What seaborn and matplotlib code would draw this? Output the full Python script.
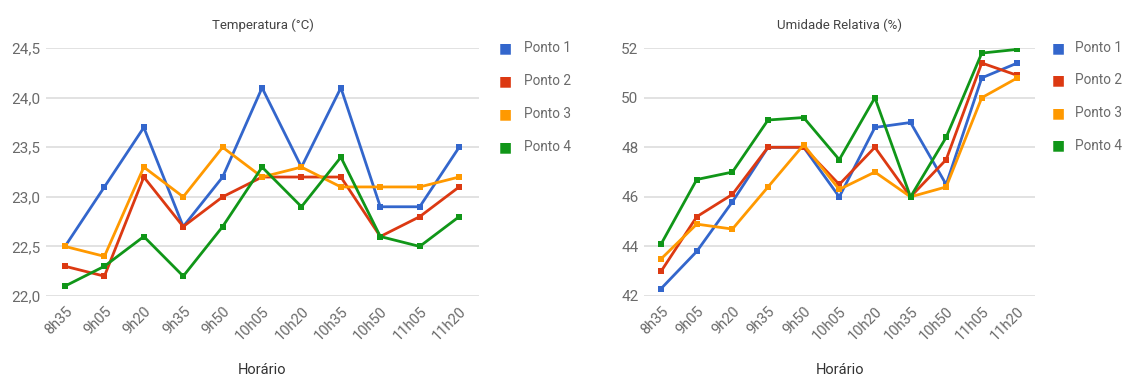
import matplotlib
matplotlib.use("Agg")
import matplotlib.pyplot as plt
import seaborn as sns
import pandas as pd

horarios = ["8h35", "9h05", "9h20", "9h35", "9h50", "10h05", "10h20", "10h35", "10h50", "11h05", "11h20"]
pontos = ["Ponto 1", "Ponto 2", "Ponto 3", "Ponto 4"]

temp_p1 = [22.5, 23.1, 23.7, 22.7, 23.2, 24.1, 23.3, 24.1, 22.9, 22.9, 23.5]
temp_p2 = [22.3, 22.2, 23.2, 22.7, 23.0, 23.2, 23.2, 23.2, 22.6, 22.8, 23.1]
temp_p3 = [22.5, 22.4, 23.3, 23.0, 23.5, 23.2, 23.3, 23.1, 23.1, 23.1, 23.2]
temp_p4 = [22.1, 22.3, 22.6, 22.2, 22.7, 23.3, 22.9, 23.4, 22.6, 22.5, 22.8]

umid_p1 = [42.3, 43.8, 45.8, 48.0, 48.0, 46.0, 48.8, 49.0, 46.5, 50.8, 51.4]
umid_p2 = [43.0, 45.2, 46.1, 48.0, 48.0, 46.5, 48.0, 46.0, 47.5, 51.4, 50.9]
umid_p3 = [43.5, 44.9, 44.7, 46.4, 48.1, 46.3, 47.0, 46.0, 46.4, 50.0, 50.8]
umid_p4 = [44.1, 46.7, 47.0, 49.1, 49.2, 47.5, 50.0, 46.0, 48.4, 51.8, 51.95]

temp_ticks = [22.0, 22.5, 23.0, 23.5, 24.0, 24.5]
umid_ticks = [42, 44, 46, 48, 50, 52]

cores = ["#3366CC", "#DC3912", "#FF9900", "#109618"]


def long_form(series):
    rows = []
    for nome, vals in zip(pontos, series):
        for i, v in enumerate(vals):
            rows.append({"pos": i, "valor": v, "Ponto": nome})
    return pd.DataFrame(rows)


df_temp = long_form([temp_p1, temp_p2, temp_p3, temp_p4])
df_umid = long_form([umid_p1, umid_p2, umid_p3, umid_p4])

sns.set_theme(style="white")
plt.rcParams["font.family"] = ["Roboto", "DejaVu Sans"]

fig = plt.figure(figsize=(11.24, 3.79), dpi=100)
ax1 = fig.add_axes([0.041, 0.219, 0.385, 0.654])
ax2 = fig.add_axes([0.573, 0.219, 0.348, 0.654])

texto = "#6a6a6a"


def desenhar(ax, df, ticks, fmt, titulo, leg_x, leg_y, leg_dy, leg_tx):
    sns.lineplot(data=df, x="pos", y="valor", hue="Ponto", hue_order=pontos,
                 palette=cores, marker="s", markersize=5, markeredgewidth=0,
                 linewidth=2, ax=ax, legend=False)
    ax.set_xlim(-0.48, 10.5)
    ax.set_ylim(ticks[0], ticks[-1])
    ax.set_yticks(ticks)
    ax.set_yticklabels([fmt(t) for t in ticks], color=texto, fontsize=11)
    ax.set_xticks(range(len(horarios)))
    ax.set_xticklabels(horarios, rotation=45, ha="right", rotation_mode="anchor",
                       color=texto, fontsize=10.5)
    ax.tick_params(axis="both", length=0, pad=4)
    ax.tick_params(axis="x", pad=6)
    for s in ax.spines.values():
        s.set_visible(False)
    ax.grid(axis="y", color="#dddddd", linewidth=1.2)
    ax.set_axisbelow(True)
    ax.set_xlabel("Horário", color="#333333", fontsize=10.5, labelpad=14)
    ax.set_ylabel("")
    ax.set_title(titulo, color="#444444", fontsize=9.5, pad=14)
    for i, (nome, c) in enumerate(zip(pontos, cores)):
        y = leg_y - i * leg_dy
        fig.text(leg_x, y, "■", color=c, fontsize=10, va="center", ha="center",
                 family=["DejaVu Sans"])
        fig.text(leg_tx, y, nome, color=texto, fontsize=9.8, va="center", ha="left")


desenhar(ax1, df_temp, temp_ticks, lambda t: f"{t:.1f}".replace(".", ","),
         "Temperatura (°C)", 505 / 1124, 1 - 48 / 379, 33 / 379, 524 / 1124)
desenhar(ax2, df_umid, umid_ticks, lambda t: f"{t:d}",
         "Umidade Relativa (%)", 1058 / 1124, 1 - 48 / 379, 32.5 / 379, 1075 / 1124)

fig.savefig("out.png", dpi=100, facecolor="white")
